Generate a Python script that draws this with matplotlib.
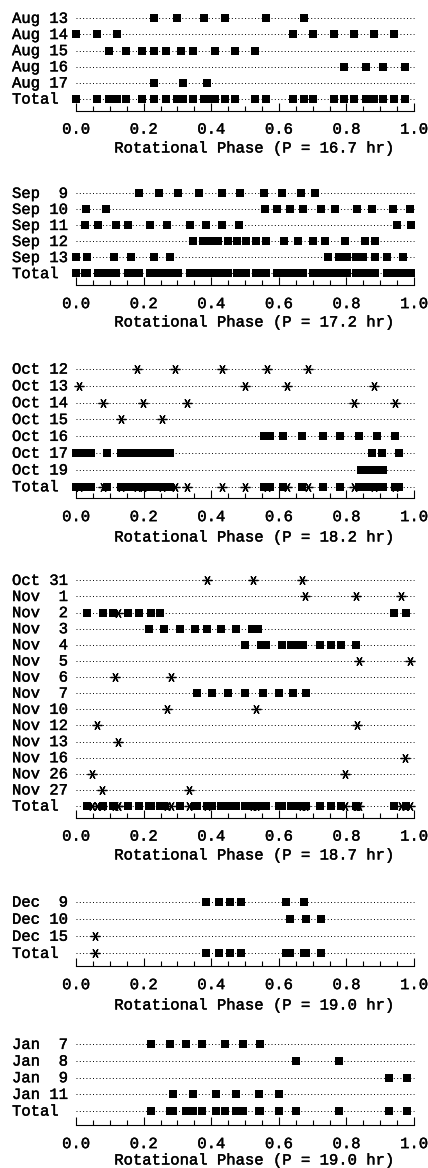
import matplotlib
matplotlib.use('Agg')
import matplotlib.pyplot as plt
import matplotlib.transforms as mtransforms
import matplotlib.patheffects as pe
from matplotlib.ticker import MultipleLocator, FormatStrFormatter

# ---------------- data (rotational phases) ----------------
aug_labels = ['Aug 13', 'Aug 14', 'Aug 15', 'Aug 16', 'Aug 17']
aug_squares = [
    [0.232, 0.299, 0.378, 0.440, 0.561, 0.675],
    [0.000, 0.061, 0.122, 0.642, 0.701, 0.763, 0.822, 0.881, 0.941],
    [0.097, 0.147, 0.194, 0.231, 0.265, 0.312, 0.347, 0.411, 0.470, 0.529],
    [0.792, 0.858, 0.909, 0.972],
    [0.232, 0.317, 0.389],
]
aug_stars = [[], [], [], [], []]
aug_period = 16.7

sep_labels = ['Sep  9', 'Sep 10', 'Sep 11', 'Sep 12', 'Sep 13']
sep_squares = [
    [0.187, 0.245, 0.302, 0.363, 0.431, 0.485, 0.556, 0.608, 0.665, 0.707],
    [0.030, 0.089, 0.559, 0.596, 0.634, 0.672, 0.726, 0.767, 0.830, 0.877, 0.938, 0.987],
    [0.027, 0.064, 0.117, 0.155, 0.219, 0.268, 0.337, 0.384, 0.431, 0.483, 0.951, 0.990],
    [0.345, 0.375, 0.397, 0.420, 0.450, 0.475, 0.503, 0.534, 0.562, 0.616, 0.657,
     0.700, 0.738, 0.797, 0.854, 0.884],
    [0.000, 0.034, 0.113, 0.163, 0.231, 0.278, 0.747, 0.777, 0.803, 0.827, 0.849,
     0.884, 0.921, 0.967],
]
sep_stars = [[], [], [], [], []]
sep_period = 17.2

oct_labels = ['Oct 12', 'Oct 13', 'Oct 14', 'Oct 15', 'Oct 16', 'Oct 17', 'Oct 19']
oct_squares = [
    [], [], [], [],
    [0.557, 0.575, 0.611, 0.670, 0.731, 0.782, 0.836, 0.892, 0.945],
    [0.000, 0.021, 0.043, 0.092, 0.133, 0.154, 0.174, 0.198, 0.222, 0.245, 0.262,
     0.279, 0.877, 0.905, 0.955],
    [0.843, 0.864, 0.885, 0.908],
]
oct_stars = [
    [0.179, 0.293, 0.433, 0.564, 0.687],
    [0.009, 0.501, 0.625, 0.881],
    [0.081, 0.199, 0.329, 0.822, 0.943],
    [0.132, 0.255],
    [], [], [],
]
oct_period = 18.2

nov_labels = ['Oct 31', 'Nov  1', 'Nov  2', 'Nov  3', 'Nov  4', 'Nov  5', 'Nov  6',
              'Nov  7', 'Nov 10', 'Nov 12', 'Nov 13', 'Nov 16', 'Nov 26', 'Nov 27']
nov_squares = [
    [], [],
    [0.034, 0.079, 0.110, 0.153, 0.187, 0.221, 0.248, 0.941, 0.977],
    [0.217, 0.260, 0.307, 0.352, 0.388, 0.430, 0.472, 0.521, 0.539],
    [0.500, 0.547, 0.563, 0.608, 0.637, 0.652, 0.672, 0.721, 0.755, 0.785, 0.828],
    [], [],
    [0.359, 0.402, 0.449, 0.500, 0.554, 0.601, 0.642, 0.679],
    [], [], [], [], [], [],
]
nov_stars = [
    [0.389, 0.524, 0.669],
    [0.677, 0.827, 0.963],
    [0.125],
    [], [],
    [0.836, 0.987],
    [0.115, 0.281],
    [],
    [0.268, 0.534],
    [0.061, 0.832],
    [0.125],
    [0.974],
    [0.046, 0.795],
    [0.078, 0.334],
]
nov_period = 18.7

dec_labels = ['Dec  9', 'Dec 10', 'Dec 15']
dec_squares = [
    [0.384, 0.422, 0.457, 0.487, 0.621, 0.675],
    [0.634, 0.679, 0.724],
    [],
]
dec_stars = [[], [], [0.056]]
dec_period = 19.0

jan_labels = ['Jan  7', 'Jan  8', 'Jan  9', 'Jan 11']
jan_squares = [
    [0.222, 0.278, 0.325, 0.374, 0.440, 0.495, 0.544],
    [0.652, 0.778],
    [0.926, 0.979],
    [0.288, 0.345, 0.413, 0.472, 0.542, 0.600],
]
jan_stars = [[], [], [], []]
jan_period = 19.0

total_label = 'Total'
xlabel_fmt = 'Rotational Phase (P = {:.1f} hr)'

# ---------------- layout (pixels in a 428 x 1168 image) ----------------
W, H = 428, 1168
X0, X1 = 76, 414
LABEL_X = 12
XLABEL_CX = 253
FONT = ['Liberation Mono', 'DejaVu Sans Mono']
FS = 11.2
FW = 'normal'
THICK = [pe.withStroke(linewidth=0.3, foreground='k')]
SQ_MS = 5.6
ST_MS = 7.0

# (first row y, total row y, axis line y, x-label centre y)
layouts = [
    (18.3, 99.0, 110.5, 148),
    (193.3, 273.5, 285.0, 322),
    (369.0, 486.7, 498.0, 537),
    (580.3, 806.0, 817.5, 855),
    (902.0, 953.3, 966.0, 1005),
    (1044.3, 1111.0, 1125.0, 1160),
]

panels = [
    (aug_labels, aug_squares, aug_stars, aug_period),
    (sep_labels, sep_squares, sep_stars, sep_period),
    (oct_labels, oct_squares, oct_stars, oct_period),
    (nov_labels, nov_squares, nov_stars, nov_period),
    (dec_labels, dec_squares, dec_stars, dec_period),
    (jan_labels, jan_squares, jan_stars, jan_period),
]

fig = plt.figure(figsize=(W / 100, H / 100), dpi=100)
fig.patch.set_facecolor('white')

STAR = (6, 2, 90)

for (labels, squares, stars, period), (y_first, y_total, y_axis, y_xl) in zip(panels, layouts):
    n = len(labels) + 1
    s = (y_total - y_first) / (n - 1)
    top_px = y_first - 0.6 * s
    ax = fig.add_axes([X0 / W, 1 - y_axis / H, (X1 - X0) / W, (y_axis - top_px) / H])
    ymax = (n - 1) + (y_axis - y_total) / s
    ax.set_ylim(ymax, -0.6)
    ax.set_xlim(0, 1)
    ax.patch.set_alpha(0)

    rows = list(labels) + [total_label]
    for i in range(n):
        ax.plot([0, 1], [i, i], color='k', lw=0.7, ls=(0, (1.0, 2.4)),
                clip_on=False, zorder=1)

    all_sq, all_st = [], []
    for i, (sq, st) in enumerate(zip(squares, stars)):
        if sq:
            ax.plot(sq, [i] * len(sq), ls='none', marker='s', ms=SQ_MS, color='k',
                    mew=0, clip_on=False, zorder=3)
        if st:
            ax.plot(st, [i] * len(st), ls='none', marker=STAR, ms=ST_MS, color='k',
                    mew=0.9, clip_on=False, zorder=3)
        all_sq += sq
        all_st += st
    if all_sq:
        ax.plot(all_sq, [n - 1] * len(all_sq), ls='none', marker='s', ms=SQ_MS,
                color='k', mew=0, clip_on=False, zorder=3)
    if all_st:
        ax.plot(all_st, [n - 1] * len(all_st), ls='none', marker=STAR, ms=ST_MS,
                color='k', mew=0.9, clip_on=False, zorder=4)

    # row labels
    trans = mtransforms.blended_transform_factory(fig.transFigure, ax.transData)
    trans = trans + mtransforms.ScaledTranslation(0, -4.6 / 100, fig.dpi_scale_trans)
    for i, lab in enumerate(rows):
        ax.text(LABEL_X / W, i, lab, transform=trans, ha='left', va='baseline',
                family=FONT, fontsize=FS, fontweight=FW, color='k',
                path_effects=THICK)

    # axis styling
    for side in ('top', 'left', 'right'):
        ax.spines[side].set_visible(False)
    ax.spines['bottom'].set_linewidth(0.8)
    ax.set_yticks([])
    ax.xaxis.set_major_locator(MultipleLocator(0.2))
    ax.xaxis.set_minor_locator(MultipleLocator(0.05))
    ax.xaxis.set_major_formatter(FormatStrFormatter('%.1f'))
    ax.tick_params(axis='x', which='major', direction='in', length=6.0, width=0.8,
                   pad=8.0, labelsize=FS)
    ax.tick_params(axis='x', which='minor', direction='in', length=3.6, width=0.8)
    for t in ax.get_xticklabels():
        t.set_family(FONT)
        t.set_fontweight(FW)
        t.set_path_effects(THICK)

    ax.set_xlabel(xlabel_fmt.format(period), family=FONT, fontsize=FS,
                  fontweight=FW, va='center', path_effects=THICK)
    ax.xaxis.set_label_coords(XLABEL_CX / W, 1 - y_xl / H, transform=fig.transFigure)

fig.savefig('out.png', dpi=100, facecolor='white')
